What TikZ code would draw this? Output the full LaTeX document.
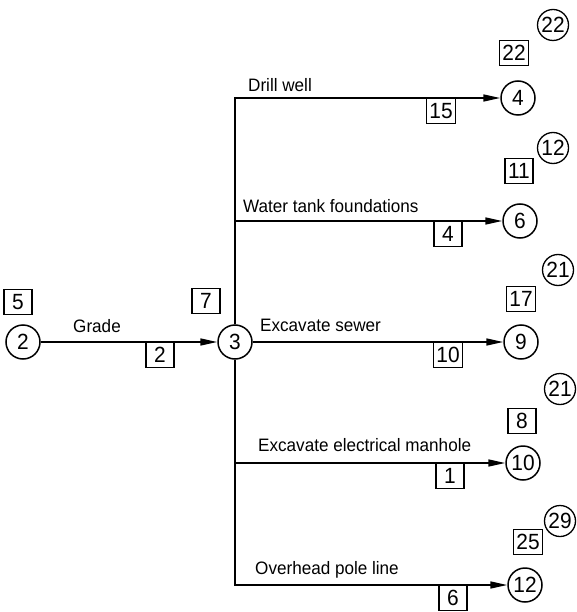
\documentclass[tikz,border=0pt]{standalone}
\usepackage{fontspec}
\setmainfont{Liberation Sans}[FakeStretch=0.95]
\usetikzlibrary{arrows.meta}

\begin{document}
\begin{tikzpicture}[
  x=1pt,y=-1pt,
  font=\fontsize{18}{20}\selectfont,
  num/.style={font=\fontsize{22}{24}\selectfont,inner sep=0pt},
  ev/.style={num,draw,circle,minimum size=34pt,line width=1.5pt},
  late/.style={num,draw,circle,minimum size=31pt,line width=1.3pt},
  tbox/.style={num,draw,inner xsep=3pt,minimum width=28pt,minimum height=25pt,line width=1.3pt},
  act/.style={anchor=west,inner sep=0pt},
  ar/.style={-{Triangle[length=17pt,width=7pt]},line width=1.6pt}
]
\useasboundingbox (0,0) rectangle (577,612);
% events
\node[ev] (n2) at (23,342) {2};
\node[ev] (n3) at (235,342) {3};
\node[ev] (n4) at (518,98) {4};
\node[ev] (n6) at (520,221) {6};
\node[ev] (n9) at (521,342) {9};
\node[ev] (n10) at (523,463) {10};
\node[ev] (n12) at (525,585) {12};
% activities
\draw[ar] (n2) -- (n3);
\draw[ar] (n3) |- (n4); \draw[ar] (n3) |- (n6);
\draw[ar] (n3) -- (n9);
\draw[ar] (n3) |- (n10); \draw[ar] (n3) |- (n12);
\node at (97,326) (grade) {Grade};
\node[act] (drill) at (248,85) {Drill well};
\node[act] (tank) at (243,206) {Water tank foundations};
\node[act] (sewer) at (260,325) {Excavate sewer};
\node[act] (manhole) at (258,445) {Excavate electrical manhole};
\node[act] (pole) at (255,570) {Overhead pole line};
% durations
\node[tbox] (d2) at (160,355) {2};
\node[tbox] (d15) at (441,111) {15};
\node[tbox] (d4) at (448,234) {4};
\node[tbox] (d10) at (448,355) {10};
\node[tbox] (d1) at (450,476) {1};
\node[tbox] (d6) at (453,598) {6};
% early times
\node[tbox] (e5) at (18,302) {5};
\node[tbox] (e7) at (206,301) {7};
\node[tbox] (e22) at (514,53) {22};
\node[tbox] (e11) at (519,171) {11};
\node[tbox] (e17) at (521,299) {17};
\node[tbox] (e8) at (522,421) {8};
\node[tbox] (e25) at (528,542) {25};
% late times
\node[late] (l22) at (553,25) {22};
\node[late] (l12) at (553,148) {12};
\node[late] (l21a) at (558,270) {21};
\node[late] (l21b) at (560,389) {21};
\node[late] (l29) at (560,521) {29};
\end{tikzpicture}
\end{document}
